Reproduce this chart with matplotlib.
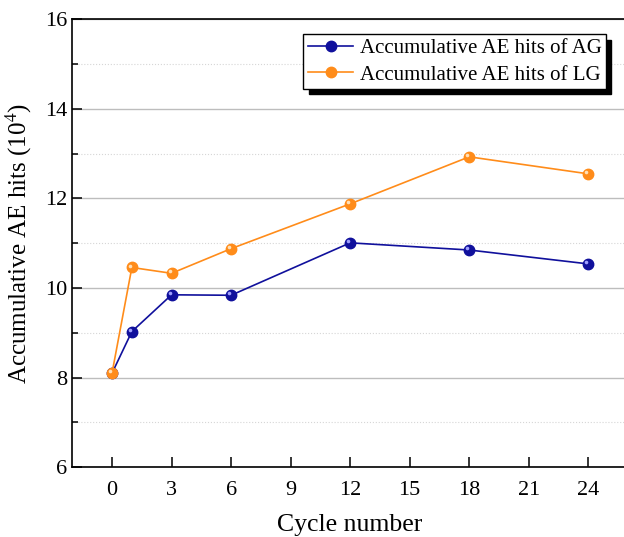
import matplotlib.pyplot as plt
from matplotlib.ticker import MultipleLocator
from matplotlib.transforms import ScaledTranslation

plt.rcParams['font.family'] = ['Liberation Serif', 'DejaVu Serif']
plt.rcParams['mathtext.fontset'] = 'stix'

cycles = [0, 1, 3, 6, 12, 18, 24]
ag_hits = [8.10, 9.03, 9.85, 9.84, 11.01, 10.85, 10.54]
lg_hits = [8.10, 10.46, 10.33, 10.88, 11.88, 12.93, 12.55]
x_ticks = [0, 3, 6, 9, 12, 15, 18, 21, 24]
y_ticks = [6, 8, 10, 12, 14, 16]

blue = '#10109c'
orange = '#ff8c1a'

fig = plt.figure(figsize=(6.24, 5.37), dpi=100)
ax = fig.add_axes([0.1159, 0.1298, 0.8905, 0.8343])

ax.plot(cycles, ag_hits, color=blue, lw=1.2, marker='o', ms=7.5,
        mfc=blue, mec=blue, label='Accumulative AE hits of AG', zorder=3)
ax.plot(cycles, lg_hits, color=orange, lw=1.2, marker='o', ms=7.5,
        mfc=orange, mec=orange, label='Accumulative AE hits of LG', zorder=4)
# small highlight on the balls (upper left)
shift = ax.transData + ScaledTranslation(-1.3 / 72, 1.3 / 72, fig.dpi_scale_trans)
ax.plot(cycles, ag_hits, ls='none', marker='o', ms=2.6, mfc='#a0a0ff', mec='none',
        zorder=3.5, transform=shift)
ax.plot(cycles, lg_hits, ls='none', marker='o', ms=2.6, mfc='#ffe0b8', mec='none',
        zorder=4.5, transform=shift)

ax.set_xlim(-2, 26)
ax.set_ylim(6, 16)
ax.set_xticks(x_ticks)
ax.set_yticks(y_ticks)
ax.yaxis.set_minor_locator(MultipleLocator(1))
ax.tick_params(axis='both', which='both', direction='in', labelsize=16)
ax.tick_params(axis='both', which='major', length=7, width=1.1)
ax.tick_params(axis='y', which='minor', length=4, width=1.1)
ax.tick_params(axis='x', pad=10)

ax.grid(axis='y', which='major', color='#bdbdbd', lw=1.0, ls='-')
ax.grid(axis='y', which='minor', color='#d6d6d6', lw=0.8, ls=':')
ax.set_axisbelow(True)

for s in ['left', 'bottom', 'top']:
    ax.spines[s].set_linewidth(1.2)
ax.spines['right'].set_visible(False)

ax.set_xlabel('Cycle number', fontsize=18.5, labelpad=10)
ax.set_ylabel('Accumulative AE hits (10$^4$)', fontsize=18, labelpad=8)

leg = ax.legend(loc='upper right', bbox_to_anchor=(0.96, 0.967), borderaxespad=0,
                fontsize=15, frameon=True, fancybox=False, edgecolor='black',
                shadow={'color': 'black', 'alpha': 1, 'ox': 4, 'oy': -4},
                handlelength=2.2, handletextpad=0.3, borderpad=0.2,
                labelspacing=0.35)
leg.get_frame().set_linewidth(1.0)

fig.savefig('out.png', dpi=100)
